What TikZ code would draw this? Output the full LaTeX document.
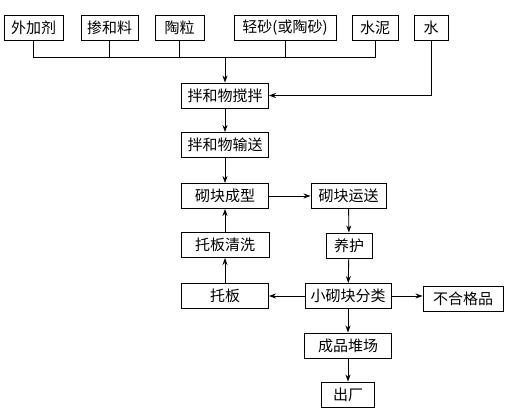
\documentclass[tikz,border=0pt]{standalone}
\usepackage{fontspec}
\newfontfamily\cjk{Noto Sans CJK SC}
\usetikzlibrary{arrows.meta}
\begin{document}
\begin{tikzpicture}[x=1pt,y=-1pt,
  box/.style={draw,line width=0.9pt,minimum height=25pt,inner sep=0pt,font=\cjk\fontsize{15}{17}\selectfont},
  line/.style={line width=0.9pt},
  arr/.style={line width=0.9pt,-{Stealth[length=7pt,width=5pt]}}]
\useasboundingbox (0,0) rectangle (509,416);
\node[box,minimum width=59pt] (wjj) at (33.5,28) {外加剂};
\node[box,minimum width=57pt] (chl) at (109.5,28) {掺和料};
\node[box,minimum width=49pt] (tl) at (179.5,28) {陶粒};
\node[box,minimum width=102pt] (qs) at (285,28) {轻砂(或陶砂)};
\node[box,minimum width=46pt] (sn) at (375,28) {水泥};
\node[box,minimum width=34pt] (shui) at (431,28) {水};
\node[box,minimum width=87pt] (jb) at (225,95.5) {拌和物搅拌};
\node[box,minimum width=87pt] (ss) at (225,145) {拌和物输送};
\node[box,minimum width=87pt] (cx) at (225,196) {砌块成型};
\node[box,minimum width=75pt] (ys) at (348.5,196) {砌块运送};
\node[box,minimum width=46pt] (yh) at (349,245.5) {养护};
\node[box,minimum width=88pt] (qx) at (225,245) {托板清洗};
\node[box,minimum width=87pt] (tb) at (225,296) {托板};
\node[box,minimum width=86pt] (fl) at (348,296) {小砌块分类};
\node[box,minimum width=80pt] (bhg) at (463,299) {不合格品};
\node[box,minimum width=87pt] (cp) at (348,345.5) {成品堆场};
\node[box,minimum width=53pt] (cc) at (348,394.5) {出厂};
\coordinate (bus) at (0,57);
\draw[line] (wjj.south) -- (wjj.south |- bus) -- (sn.south |- bus) -- (sn.south);
\draw[line] (chl.south) -- (chl.south |- bus);
\draw[line] (tl.south) -- (tl.south |- bus);
\draw[line] (qs.south) -- (qs.south |- bus);
\draw[arr] (jb.north |- bus) -- (jb.north);
\draw[arr] (shui.south) |- (jb.east);
\draw[arr] (jb) -- (ss);
\draw[arr] (ss) -- (cx);
\draw[arr] (cx) -- (ys);
\draw[arr] (ys) -- (yh);
\draw[arr] (yh) -- (fl);
\draw[arr] (fl) -- (tb);
\draw[arr] (fl.east) -- (fl.east -| bhg.west);
\draw[arr] (tb) -- (qx);
\draw[arr] (qx) -- (cx);
\draw[arr] (fl) -- (cp);
\draw[arr] (cp) -- (cc);
\end{tikzpicture}
\end{document}
